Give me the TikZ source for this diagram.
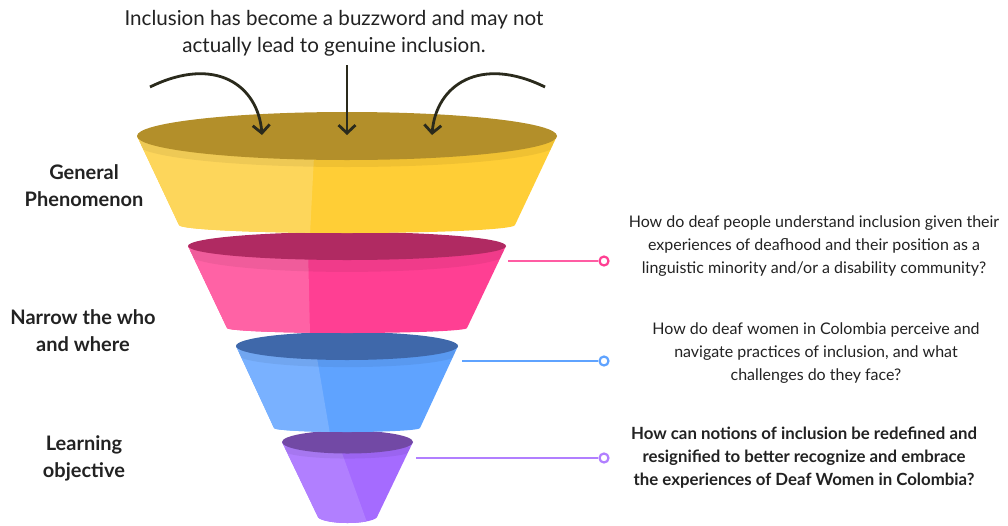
\documentclass[tikz,border=0pt]{standalone}
\usepackage{fontspec}
\setmainfont{Lato}
\usetikzlibrary{arrows.meta}

\definecolor{ytop}{HTML}{B38F2A}
\definecolor{yleft}{HTML}{FDD65B}
\definecolor{yright}{HTML}{FFCE36}
\definecolor{ptop}{HTML}{B02A62}
\definecolor{pleft}{HTML}{FF62A5}
\definecolor{pright}{HTML}{FF3F93}
\definecolor{btop}{HTML}{3F68AA}
\definecolor{bleft}{HTML}{79B1FF}
\definecolor{bright}{HTML}{5FA3FF}
\definecolor{vtop}{HTML}{7249A5}
\definecolor{vleft}{HTML}{B17FFF}
\definecolor{vright}{HTML}{A56BFF}
\definecolor{ink}{HTML}{222222}
\definecolor{arrowink}{HTML}{2A2A1C}

\tikzset{
    label text/.style={font=\fontsize{20}{27}\selectfont\bfseries, text=ink, align=center},
    question/.style={font=\fontsize{16}{23}\selectfont, text=ink, align=center},
    tag/.style={circle, draw=#1, line width=2.2pt, fill=white, inner sep=0pt, minimum size=9pt},
    lead/.style={draw=#1, line width=2.2pt},
    drop/.style={draw=arrowink, line width=2.8pt, -{Straight Barb[length=8pt,width=17pt,line width=2.8pt]}}
}

% one funnel ring: center x, top y, top radii, bottom y, bottom half width, bottom bend, split top/bottom x, colours
\newcommand{\ring}[9]{%
    \begin{scope}
        \clip (#1-#3,#2) -- (#1-#5,#4) arc[start angle=180, end angle=0, x radius=#5, y radius=#6] -- (#1+#3,#2) -- cycle;
        \fill[#9right] (0,#2-40) rectangle (1008,#4+20);
        \fill[#9left] (0,#2-40) -- (#7,#2-40) -- (#7,#2) -- (#8,#4+#6+2) -- (0,#4+#6+2) -- cycle;
        \fill[black, opacity=0.06] (#1,#2+8) ellipse [x radius=#3, y radius=#3*0.1+2];
    \end{scope}
}

\begin{document}
\begin{tikzpicture}[x=1pt, y=-1pt]
    \useasboundingbox (0,0) rectangle (1008,525);

    % funnel, from the bottom ring up
    \ring{347.5}{442}{65.5}{516}{30}{7}{338}{368}{v}
    \fill[vtop] (347.5,442) ellipse [x radius=65.5, y radius=11.5];
    \ring{347}{346}{111}{428}{73}{4}{315}{330}{b}
    \fill[btop] (347,346) ellipse [x radius=111, y radius=14];
    \ring{347}{246}{159}{328}{120}{5}{308}{310}{p}
    \fill[ptop] (347,246) ellipse [x radius=159, y radius=14];
    \ring{347}{136}{210}{225}{168}{8}{315}{310}{y}
    \fill[ytop] (347,136) ellipse [x radius=210, y radius=24];

    % heading and arrows into the funnel
    \node[font=\fontsize{20.6}{27}\selectfont, text=ink, align=center] (claim) at (334,33) {Inclusion has become a buzzword and may not\\actually lead to genuine inclusion.};
    \coordinate (inL) at (150,87);
    \coordinate (inM) at (347,65);
    \coordinate (inR) at (545,87);
    \coordinate (outL) at (262,135);
    \coordinate (outM) at (347,135);
    \coordinate (outR) at (432,135);
    \draw[drop] (inL) .. controls (215,55) and (258,85) .. (outL);
    \draw[drop] (inM) -- (outM);
    \draw[drop] (inR) .. controls (480,55) and (436,85) .. (outR);

    % stage names
    \node[label text] (general) at (84,186) {General\\Phenomenon};
    \node[label text] (narrow) at (83,331) {Narrow the who\\and where};
    \node[label text] (learning) at (84,458) {Learning\\objective};

    % questions with their leads
    \coordinate (pinkEnd) at (508,261);
    \node[tag=pright] (pinkTag) at (604,261) {};
    \draw[lead=pright!85!white] (pinkEnd) -- (pinkTag);
    \coordinate (blueEnd) at (462,361);
    \node[tag=bright] (blueTag) at (604,361) {};
    \draw[lead=bright] (blueEnd) -- (blueTag);
    \coordinate (violetEnd) at (416,458);
    \node[tag=vleft] (violetTag) at (604,458) {};
    \draw[lead=vleft] (violetEnd) -- (violetTag);

    \node[question] (q1) at (814,246) {How do deaf people understand inclusion given their\\experiences of deafhood and their position as a\\linguistic minority and/or a disability community?};
    \node[question] (q2) at (816,353) {How do deaf women in Colombia perceive and\\navigate practices of inclusion, and what\\challenges do they face?};
    \node[question, font=\fontsize{16.8}{23}\selectfont\bfseries] (q3) at (804,458) {How can notions of inclusion be redefined and\\resignified to better recognize and embrace\\the experiences of Deaf Women in Colombia?};
\end{tikzpicture}
\end{document}
